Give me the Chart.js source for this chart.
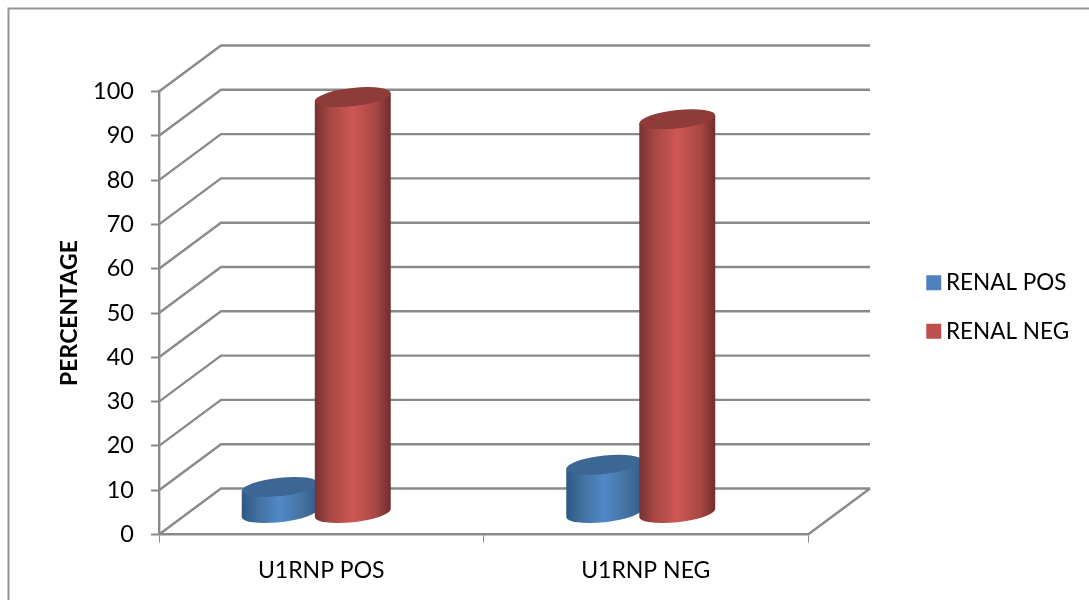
<!DOCTYPE html>
<html>
<head>
<meta charset="utf-8">
<script src="https://cdn.jsdelivr.net/npm/chart.js@4"></script>
<style>
  html, body { margin: 0; background: #fff; overflow: hidden; }
  #wrap { width: 1089px; height: 600px; }
</style>
</head>
<body>
<div id="wrap"><canvas id="chart" width="1089" height="600"></canvas></div>
<script>
const categories = ['U1RNP POS', 'U1RNP NEG'];
const renalPos = [6, 11];
const renalNeg = [94, 89];
const yTicks = [0, 10, 20, 30, 40, 50, 60, 70, 80, 90, 100];

const FONT = 'Lato';
const LINE = '#8a8a8a';

// how far the back wall sits from the front plane
const WALL_DX = 62;
const WALL_DY = -46;
// cylinders stand halfway into the floor
const BAR_DX = -5;
const BAR_DY = -21;
const ELLIPSE_B = 9.2;
const ELLIPSE_TILT = 0.105;

const shades = {
  blue: { edge1: '#2c5783', side1: '#41709f', mid: '#5288c8', side2: '#44739f', edge2: '#2f5b8a', cap: '#3c6694' },
  red: { edge1: '#763230', side1: '#a64744', mid: '#cf5755', side2: '#a94845', edge2: '#6f2e2c', cap: '#8f3b39' }
};

function drawCylinder(ctx, bar, colors) {
  const cx = bar.x + BAR_DX;
  const a = bar.width / 2;
  const top = bar.y + BAR_DY;
  const bottom = bar.base + BAR_DY;
  const grad = ctx.createLinearGradient(cx - a, 0, cx + a, 0);
  grad.addColorStop(0, colors.edge1);
  grad.addColorStop(0.2, colors.side1);
  grad.addColorStop(0.5, colors.mid);
  grad.addColorStop(0.8, colors.side2);
  grad.addColorStop(1, colors.edge2);

  // body: lower half of the base ellipse, then straight up the sides
  ctx.save();
  ctx.fillStyle = grad;
  ctx.beginPath();
  ctx.moveTo(cx - a, top + a * ELLIPSE_TILT);
  ctx.lineTo(cx - a, bottom + a * ELLIPSE_TILT);
  ctx.save();
  ctx.transform(1, -ELLIPSE_TILT, 0, 1, cx, bottom);
  ctx.ellipse(0, 0, a, ELLIPSE_B, 0, Math.PI, 0, true);
  ctx.restore();
  ctx.lineTo(cx + a, top - a * ELLIPSE_TILT);
  ctx.closePath();
  ctx.fill();

  // top cap
  ctx.fillStyle = colors.cap;
  ctx.beginPath();
  ctx.transform(1, -ELLIPSE_TILT, 0, 1, cx, top);
  ctx.ellipse(0, 0, a, ELLIPSE_B, 0, 0, Math.PI * 2);
  ctx.fill();
  ctx.restore();
}

const depthChart = {
  id: 'depthChart',
  beforeLayout(chart) {
    // legend keeps the whole strip to the right of the plot
    const legend = chart.legend;
    if (!legend.fitWrapped) {
      const fit = legend.fit;
      legend.fit = function () {
        fit.call(this);
        this.width = 281;
      };
      legend.fitWrapped = true;
    }
  },
  afterLayout(chart) {
    const legend = chart.legend;
    const w = legend.width;
    legend.left = 932.75 - legend.options.labels.padding;
    legend.right = legend.left + w;
    legend.top = 7;
    legend.bottom = 607;
  },
  beforeDraw(chart) {
    const ctx = chart.ctx;
    ctx.save();
    ctx.strokeStyle = '#949494';
    ctx.lineWidth = 2;
    ctx.beginPath();
    ctx.moveTo(8.5, 600);
    ctx.lineTo(8.5, 8.5);
    ctx.lineTo(1089, 8.5);
    ctx.stroke();
    ctx.restore();
  },
  beforeDatasetsDraw(chart) {
    const ctx = chart.ctx;
    const y = chart.scales.y;
    const left = chart.chartArea.left;
    const right = chart.chartArea.right;
    ctx.save();
    ctx.strokeStyle = LINE;
    ctx.lineWidth = 2.4;
    yTicks.forEach((v) => {
      const py = y.getPixelForValue(v);
      ctx.beginPath();
      ctx.moveTo(left, py);
      ctx.lineTo(left + WALL_DX, py + WALL_DY);
      ctx.lineTo(right + WALL_DX, py + WALL_DY);
      ctx.stroke();
    });
    const py0 = y.getPixelForValue(0);
    ctx.beginPath();
    ctx.moveTo(right, py0);
    ctx.lineTo(right + WALL_DX, py0 + WALL_DY);
    ctx.stroke();
    ctx.restore();
  },
  // the flat bars are replaced by the cylinders below
  beforeDatasetDraw() {
    return false;
  },
  afterDatasetsDraw(chart) {
    ['blue', 'red'].forEach((name, i) => {
      chart.getDatasetMeta(i).data.forEach((bar) => {
        drawCylinder(chart.ctx, bar, shades[name]);
      });
    });
  }
};

new Chart(document.getElementById('chart'), {
  type: 'bar',
  data: {
    labels: categories,
    datasets: [
      // the thick border is what paints the legend swatch, it keeps the label close to it
      { label: 'RENAL POS', data: renalPos, backgroundColor: '#4f81bd', borderColor: '#4f81bd', borderWidth: 13 },
      { label: 'RENAL NEG', data: renalNeg, backgroundColor: '#c0504d', borderColor: '#c0504d', borderWidth: 13 }
    ]
  },
  options: {
    responsive: false,
    animation: false,
    layout: { padding: { top: 91.5 } },
    datasets: { bar: { categoryPercentage: 0.45, barPercentage: 1.04 } },
    plugins: {
      tooltip: { enabled: false },
      legend: {
        position: 'right',
        labels: {
          color: '#000',
          font: { family: FONT, size: 22.5 },
          boxWidth: 2,
          boxHeight: 2,
          padding: 26
        }
      }
    },
    scales: {
      x: {
        afterFit(scale) { scale.height = 65.5; },
        border: { color: LINE, width: 2.4 },
        grid: { drawOnChartArea: false, tickLength: 8, tickColor: LINE, tickWidth: 1 },
        ticks: { color: '#000', font: { family: FONT, size: 23 }, padding: 14, maxRotation: 0 }
      },
      y: {
        min: 0,
        max: 100,
        afterFit(scale) { scale.width = 159; },
        afterBuildTicks(scale) { scale.ticks = yTicks.map((v) => ({ value: v })); },
        border: { color: LINE, width: 2.4 },
        grid: { drawOnChartArea: false, tickLength: 8, tickColor: LINE, tickWidth: 2 },
        ticks: { color: '#000', font: { family: FONT, size: 23.5 }, padding: 17 },
        title: {
          display: true,
          text: 'PERCENTAGE',
          color: '#000',
          font: { family: FONT, size: 23, weight: 'bold' },
          padding: { top: 56, bottom: 0 }
        }
      }
    }
  },
  plugins: [depthChart]
});
</script>
</body>
</html>
